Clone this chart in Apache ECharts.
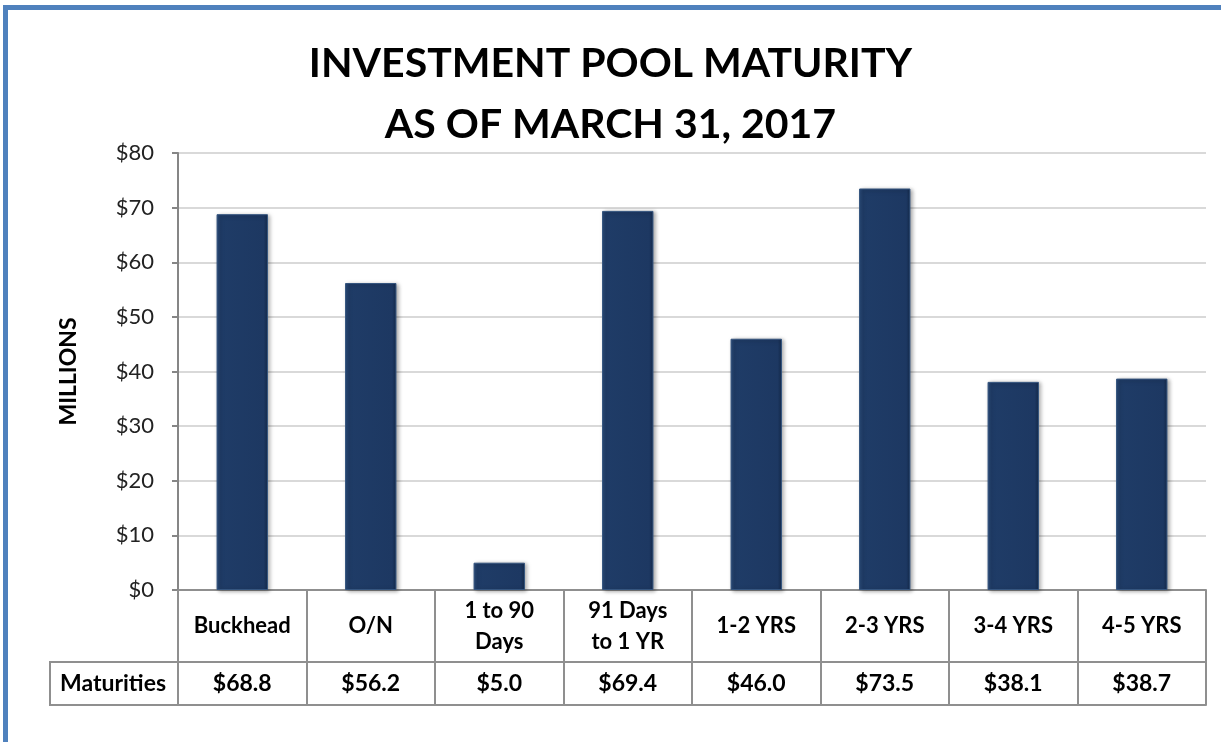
<!DOCTYPE html>
<html>
<head>
<meta charset="utf-8">
<script src="https://cdn.jsdelivr.net/npm/echarts@6/dist/echarts.min.js"></script>
<style>
  html, body { margin:0; padding:0; background:#fff; }
  #frame { position:absolute; left:3px; top:5px; width:1213px; height:760px;
           border-left:5px solid #4f81bd; border-top:5px solid #4f81bd; border-right:2px solid #dce6f2; }
  #main { position:absolute; left:0; top:0; width:1221px; height:742px; }
</style>
</head>
<body>
<div id="frame"></div>
<div id="main"></div>
<script type="text/javascript">
// maturity buckets and amounts (millions)
var categories = ['Buckhead', 'O/N', '1 to 90\nDays', '91 Days\nto 1 YR', '1-2 YRS', '2-3 YRS', '3-4 YRS', '4-5 YRS'];
var maturities = [68.8, 56.2, 5.0, 69.4, 46.0, 73.5, 38.1, 38.7];
var valueLabels = ['$68.8', '$56.2', '$5.0', '$69.4', '$46.0', '$73.5', '$38.1', '$38.7'];
var rowName = 'Maturities';

var font = 'Lato, "Open Sans", sans-serif';
var tableLine = {color: '#8f8f8f', width: 2};

var myChart = echarts.init(document.getElementById('main'), null, {renderer: 'canvas'});

var option = {
    backgroundColor: 'transparent',
    animation: false,
    title: {
        text: 'INVESTMENT POOL MATURITY\nAS OF MARCH 31, 2017',
        left: 'center',
        top: 28,
        textStyle: {
            fontFamily: font,
            fontSize: 41,
            fontWeight: 'bold',
            color: '#000',
            lineHeight: 61
        }
    },
    grid: {left: 178, right: 15, top: 153, bottom: 152},
    xAxis: [
        {
            type: 'category',
            data: categories,
            position: 'bottom',
            axisLine: {show: true, lineStyle: tableLine},
            axisTick: {show: true, length: 115, lineStyle: tableLine},
            axisLabel: {
                margin: 36,
                verticalAlign: 'middle',
                interval: 0,
                fontFamily: font,
                fontSize: 22,
                fontWeight: 'bold',
                color: '#000',
                lineHeight: 31
            }
        },
        {
            type: 'category',
            data: valueLabels,
            position: 'bottom',
            offset: 72,
            axisLine: {show: true, lineStyle: tableLine},
            axisTick: {show: false},
            axisLabel: {
                margin: 22,
                verticalAlign: 'middle',
                interval: 0,
                fontFamily: font,
                fontSize: 23,
                fontWeight: 'bold',
                color: '#000'
            }
        },
        {
            type: 'category',
            data: categories,
            position: 'bottom',
            offset: 115,
            axisLine: {show: true, lineStyle: tableLine},
            axisTick: {show: false},
            axisLabel: {show: false}
        }
    ],
    yAxis: {
        type: 'value',
        min: 0,
        max: 80,
        interval: 10,
        name: 'MILLIONS',
        nameLocation: 'middle',
        nameRotate: 90,
        nameGap: 98,
        nameTextStyle: {fontFamily: font, fontSize: 23, fontWeight: 'bold', color: '#000'},
        axisLine: {show: true, lineStyle: {color: '#868686', width: 2}},
        axisTick: {show: true, length: 6, lineStyle: {color: '#868686', width: 2}},
        axisLabel: {
            margin: 24,
            formatter: '${value}',
            fontFamily: font,
            fontSize: 22,
            color: '#222'
        },
        splitLine: {show: true, lineStyle: {color: '#d9d9d9', width: 2}}
    },
    series: [
        {
            name: rowName,
            type: 'bar',
            xAxisIndex: 0,
            barWidth: '40%',
            data: maturities,
            itemStyle: {
                color: new echarts.graphic.LinearGradient(0, 0, 1, 0, [
                    {offset: 0, color: '#2c4c7a'},
                    {offset: 0.08, color: '#1f3c67'},
                    {offset: 0.92, color: '#1d3862'},
                    {offset: 1, color: '#14294a'}
                ]),
                borderColor: '#35557f',
                borderWidth: 1,
                shadowColor: 'rgba(0,0,0,0.35)',
                shadowBlur: 4,
                shadowOffsetX: 2,
                shadowOffsetY: 1
            }
        }
    ],
    graphic: [
        {
            type: 'rect',
            shape: {x: 50, y: 662, width: 128, height: 43},
            style: {fill: '#fff', stroke: '#8f8f8f', lineWidth: 2}
        },
        {
            type: 'text',
            x: 113,
            y: 684,
            style: {
                text: rowName,
                fontFamily: font,
                fontSize: 23,
                fontWeight: 'bold',
                fill: '#000',
                align: 'center',
                verticalAlign: 'middle'
            }
        }
    ]
};

myChart.setOption(option);
</script>
</body>
</html>
